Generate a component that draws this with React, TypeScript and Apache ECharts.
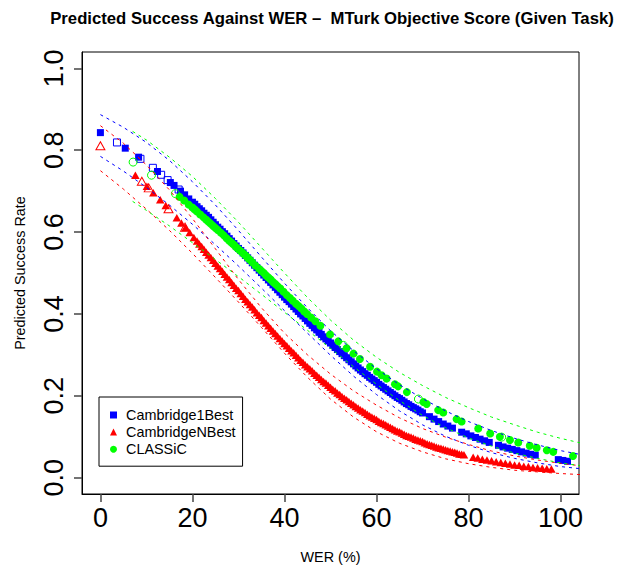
import React, { useEffect, useRef } from "react";
import * as echarts from "echarts";

const FONT = '"Liberation Sans", Arial, Helvetica, sans-serif';

const TITLE = "Predicted Success Against WER \u2013  MTurk Objective Score (Given Task)";
const X_NAME = "WER (%)";
const Y_NAME = "Predicted Success Rate";

const xTicks = [0, 20, 40, 60, 80, 100];
const yTicks = [0, 0.2, 0.4, 0.6, 0.8, 1.0];
const X_MIN = -4;
const X_MAX = 104;
const Y_MIN = -0.04;
const Y_MAX = 1.04;

// Cambridge1Best (filled squares)
const blueFilled: number[][] = [
  [0, 0.843], [5.4, 0.805], [8.3, 0.783], [12.4, 0.748], [15.2, 0.721], [16, 0.714], [17.4, 0.7], [18.3, 0.691], [19.2, 0.681],
  [20, 0.673], [20.5, 0.668], [21, 0.662], [21.5, 0.657], [22, 0.652], [22.5, 0.646], [23, 0.641], [23.5, 0.636], [24, 0.63], [24.5, 0.624],
  [25, 0.618], [25.5, 0.612], [26, 0.607], [26.5, 0.601], [27, 0.596], [27.5, 0.59], [28, 0.584], [28.5, 0.578], [29, 0.572], [29.5, 0.566],
  [30, 0.56], [30.5, 0.555], [31, 0.549], [31.5, 0.543], [32, 0.537], [32.5, 0.531], [33, 0.525], [33.5, 0.519], [34, 0.513], [34.5, 0.507],
  [35, 0.501], [35.5, 0.495], [36, 0.489], [36.5, 0.483], [37, 0.477], [37.5, 0.471], [38, 0.465], [38.5, 0.459], [39, 0.453], [39.5, 0.447],
  [40, 0.441], [40.5, 0.435], [41, 0.43], [41.5, 0.424], [42, 0.418], [42.5, 0.412], [43, 0.406], [43.5, 0.4], [44, 0.395], [44.5, 0.389],
  [45, 0.383], [45.5, 0.377], [46, 0.372], [46.5, 0.366], [47, 0.361], [47.5, 0.355], [48, 0.35], [48.5, 0.344], [49, 0.339], [49.5, 0.334],
  [50, 0.329], [50.5, 0.323], [51, 0.318], [51.5, 0.313], [52, 0.308], [52.5, 0.303], [53, 0.298], [53.5, 0.293], [54, 0.288], [54.5, 0.283],
  [55, 0.278], [55.5, 0.273], [56, 0.268], [56.5, 0.263], [57, 0.259], [57.5, 0.254], [58, 0.25], [58.5, 0.245], [59, 0.241], [59.5, 0.237],
  [60, 0.233], [60.5, 0.228], [61, 0.224], [61.5, 0.22], [62, 0.216], [62.5, 0.212], [63, 0.208], [63.5, 0.204], [64, 0.2], [64.5, 0.196],
  [65, 0.193], [65.5, 0.189], [66, 0.185], [66.5, 0.181], [67, 0.178], [67.5, 0.174], [68, 0.171], [68.5, 0.168], [69, 0.165], [69.5, 0.161],
  [70, 0.158], [71.5, 0.149], [72.5, 0.143], [73.5, 0.137], [74.5, 0.131], [75.5, 0.126], [76.5, 0.121],
  [78.5, 0.111], [79.5, 0.107], [80.5, 0.102], [81.5, 0.098], [82.5, 0.094], [83.5, 0.09], [84.5, 0.086],
  [86.5, 0.079], [87.5, 0.075], [88.5, 0.072], [89.5, 0.069], [90.5, 0.066], [91.5, 0.063], [92.5, 0.06], [93.5, 0.057], [94.5, 0.055],
  [99.5, 0.044], [100.5, 0.042], [101.5, 0.04],
];
// Cambridge1Best (open squares)
const blueOpen: number[][] = [
  [3.6, 0.819], [8.7, 0.779], [11.4, 0.757], [13.2, 0.74], [14.6, 0.727], [17, 0.704],
];

// CambridgeNBest (filled triangles)
const redFilled: number[][] = [
  [7.6, 0.739], [10.1, 0.712], [11.5, 0.696], [13.0, 0.679], [14.2, 0.665], [16.6, 0.635], [17.6, 0.622], [18.5, 0.611], [19.4, 0.599],
  [20.3, 0.587], [21, 0.578], [21.5, 0.571], [22, 0.565], [22.5, 0.558], [23, 0.551], [23.5, 0.544], [24, 0.538], [24.5, 0.531],
  [25, 0.524], [25.5, 0.517], [26, 0.511], [26.5, 0.504], [27, 0.497], [27.5, 0.49], [28, 0.484], [28.5, 0.477], [29, 0.47], [29.5, 0.463],
  [30, 0.457], [30.5, 0.45], [31, 0.443], [31.5, 0.436], [32, 0.43], [32.5, 0.423], [33, 0.417], [33.5, 0.41], [34, 0.403], [34.5, 0.397],
  [35, 0.391], [35.5, 0.384], [36, 0.378], [36.5, 0.371], [37, 0.365], [37.5, 0.358], [38, 0.352], [38.5, 0.346], [39, 0.34], [39.5, 0.334],
  [40, 0.328], [40.5, 0.322], [41, 0.316], [41.5, 0.31], [42, 0.305], [42.5, 0.299], [43, 0.293], [43.5, 0.287], [44, 0.282], [44.5, 0.276],
  [45, 0.271], [45.5, 0.266], [46, 0.261], [46.5, 0.255], [47, 0.25], [47.5, 0.245], [48, 0.24], [48.5, 0.235], [49, 0.231], [49.5, 0.226],
  [50, 0.221], [50.5, 0.216], [51, 0.212], [51.5, 0.207], [52, 0.203], [52.5, 0.198], [53, 0.194], [53.5, 0.19], [54, 0.186], [54.5, 0.182],
  [55, 0.178], [55.5, 0.174], [56, 0.17], [56.5, 0.166], [57, 0.163], [57.5, 0.159], [58, 0.155], [58.5, 0.151], [59, 0.148], [59.5, 0.145],
  [60, 0.142], [60.5, 0.138], [61, 0.135], [61.5, 0.132], [62, 0.129], [62.5, 0.126], [63, 0.123], [63.5, 0.12], [64, 0.117], [64.5, 0.114],
  [65, 0.112], [65.5, 0.109], [66, 0.106], [66.5, 0.103], [67, 0.101], [67.5, 0.099], [68, 0.097], [68.5, 0.094], [69, 0.092], [69.5, 0.09],
  [70, 0.088], [70.5, 0.085], [71, 0.083], [71.5, 0.081], [72, 0.079], [72.5, 0.077], [73, 0.075], [73.5, 0.073], [74, 0.072], [74.5, 0.07],
  [75, 0.068], [75.5, 0.066], [76, 0.065], [76.5, 0.063], [77, 0.062], [77.5, 0.06], [78, 0.058], [78.5, 0.057], [79, 0.056],
  [81, 0.05], [82, 0.048], [83, 0.045], [84, 0.043], [85, 0.041], [86, 0.039], [87, 0.037], [88, 0.035], [89, 0.033],
  [90, 0.031], [91, 0.03], [92, 0.028], [93, 0.027], [94, 0.025], [95, 0.024], [96, 0.023], [97, 0.022], [98, 0.021],
];
// CambridgeNBest (open triangles)
const redOpen: number[][] = [
  [0, 0.811], [9.0, 0.724], [10.5, 0.708], [14.8, 0.657], [18.4, 0.612],
];

// CLASSiC (filled circles)
const greenFilled: number[][] = [
  [17.2, 0.686], [18.2, 0.677], [19.2, 0.667], [20, 0.66], [20.5, 0.655], [21, 0.65], [21.7, 0.643], [22.4, 0.636], [23, 0.63],
  [23.5, 0.625], [24, 0.62], [24.5, 0.615], [25, 0.61], [25.5, 0.605], [26.2, 0.598], [26.8, 0.592], [27.4, 0.585], [28, 0.579],
  [28.5, 0.574], [29, 0.569], [29.5, 0.563], [30, 0.558], [30.5, 0.553], [31.1, 0.547], [31.6, 0.542], [32, 0.537], [32.5, 0.532],
  [33, 0.526], [33.7, 0.518], [34.5, 0.51], [35, 0.505], [35.5, 0.5], [36, 0.494], [36.5, 0.489], [37, 0.484], [37.5, 0.478],
  [38, 0.473], [38.5, 0.468], [39.1, 0.462], [39.8, 0.454], [40.5, 0.446], [41.2, 0.439], [41.8, 0.432], [42.5, 0.425], [43.1, 0.419],
  [43.7, 0.413], [44.3, 0.406], [44.9, 0.4], [45.8, 0.391], [46.7, 0.382], [47.8, 0.371],
  [49.9, 0.35], [51.7, 0.333], [53.5, 0.316], [55.0, 0.303], [56.4, 0.29], [58.6, 0.271], [60.1, 0.259], [61.1, 0.25], [62.2, 0.242],
  [64.0, 0.228], [64.7, 0.223], [66.6, 0.209], [70.2, 0.185], [70.9, 0.18], [73.4, 0.165], [74.5, 0.159], [77.4, 0.143], [78.5, 0.137],
  [82.1, 0.12], [84.7, 0.108], [86.8, 0.1], [89.0, 0.092], [90.8, 0.086], [93.3, 0.078], [94.8, 0.073], [97.0, 0.067], [98.4, 0.063],
  [102.7, 0.053],
];
// CLASSiC (open circles)
const greenOpen: number[][] = [
  [7.1, 0.771], [11.1, 0.739], [16.3, 0.694], [52.8, 0.323], [69.1, 0.192], [87.2, 0.099],
];

// Confidence bands (dashed)
const bandX = [0, 5, 10, 15, 20, 25, 30, 35, 40, 45, 50, 55, 60, 65, 70, 75, 80, 85, 90, 95, 100, 105];
const blueUpper = [0.887, 0.856, 0.819, 0.775, 0.723, 0.666, 0.604, 0.539, 0.475, 0.415, 0.359, 0.31, 0.266, 0.227, 0.193, 0.163, 0.137, 0.115, 0.096, 0.08, 0.066, 0.055];
const blueLower = [0.785, 0.749, 0.709, 0.666, 0.619, 0.569, 0.517, 0.463, 0.408, 0.353, 0.299, 0.248, 0.203, 0.163, 0.129, 0.101, 0.079, 0.061, 0.047, 0.036, 0.027, 0.021];
const redUpper = [0.86, 0.817, 0.764, 0.703, 0.633, 0.559, 0.484, 0.415, 0.353, 0.3, 0.253, 0.212, 0.177, 0.146, 0.12, 0.099, 0.081, 0.065, 0.053, 0.043, 0.035, 0.028];
const redLower = [0.75, 0.705, 0.656, 0.604, 0.548, 0.489, 0.429, 0.367, 0.304, 0.245, 0.192, 0.148, 0.112, 0.084, 0.063, 0.046, 0.034, 0.025, 0.018, 0.014, 0.01, 0.007];
const greenBandX = [7, 10, 15, 20, 25, 30, 35, 40, 45, 50, 55, 60, 65, 70, 75, 80, 85, 90, 95, 100, 105];
const greenUpper = [0.846, 0.825, 0.783, 0.736, 0.682, 0.624, 0.562, 0.5, 0.44, 0.385, 0.336, 0.294, 0.257, 0.225, 0.196, 0.171, 0.148, 0.129, 0.111, 0.096, 0.083];
const greenLower = [0.675, 0.653, 0.615, 0.574, 0.533, 0.491, 0.448, 0.404, 0.36, 0.316, 0.271, 0.228, 0.188, 0.152, 0.122, 0.097, 0.077, 0.06, 0.047, 0.036, 0.028];

const BLUE = "#0000ff";
const RED = "#ff0000";
const GREEN = "#00ff00";

function zip(xs: number[], ys: number[]) {
  return xs.map((x, i) => [x, ys[i]]);
}

function band(name: string, color: string, xs: number[], ys: number[]) {
  return {
    name,
    type: "line",
    data: zip(xs, ys),
    showSymbol: false,
    symbol: "none",
    silent: true,
    z: 4,
    lineStyle: { color, width: 1, type: [3, 4] },
  };
}

export default function App() {
  const ref = useRef<HTMLDivElement>(null);
  useEffect(() => {
    if (!ref.current) return;
    const chart = echarts.init(ref.current, undefined, { renderer: "svg" });
    const option: any = {
      animation: false,
      backgroundColor: "#ffffff",
      title: {
        text: TITLE,
        left: 332,
        top: 10,
        textAlign: "center",
        padding: 0,
        textStyle: { fontFamily: FONT, fontWeight: "bold", fontSize: 16.7, color: "#000" },
      },
      grid: {
        left: 82,
        right: 43,
        top: 52,
        bottom: 72,
        show: true,
        borderColor: "#000",
        borderWidth: 1,
        backgroundColor: "transparent",
      },
      legend: {
        orient: "vertical",
        left: 99,
        top: 397,
        padding: [11, 7, 10, 11],
        itemGap: 3.1,
        itemWidth: 7,
        itemHeight: 7,
        borderColor: "#000",
        borderWidth: 1,
        backgroundColor: "#fff",
        selectedMode: false,
        textStyle: { fontFamily: FONT, fontSize: 14.4, color: "#000", padding: [0, 0, 0, 4] },
        data: [
          { name: "Cambridge1Best", icon: "rect" },
          { name: "CambridgeNBest", icon: "triangle" },
          { name: "CLASSiC", icon: "circle" },
        ],
      },
      xAxis: {
        type: "value",
        min: X_MIN,
        max: X_MAX,
        name: X_NAME,
        nameLocation: "middle",
        nameGap: 56,
        nameTextStyle: { fontFamily: FONT, fontSize: 14.4, color: "#000" },
        axisLine: { show: true, onZero: false, lineStyle: { color: "#000", width: 1 } },
        splitLine: { show: false },
        axisTick: { show: true, inside: false, length: 8, customValues: xTicks, lineStyle: { color: "#444", width: 1.5 } },
        axisLabel: { customValues: xTicks, fontFamily: FONT, fontSize: 27, color: "#000", margin: 10 },
      },
      yAxis: {
        type: "value",
        min: Y_MIN,
        max: Y_MAX,
        name: Y_NAME,
        nameLocation: "middle",
        nameGap: 55,
        nameRotate: 90,
        nameTextStyle: { fontFamily: FONT, fontSize: 14.4, color: "#000" },
        axisLine: { show: true, onZero: false, lineStyle: { color: "#000", width: 1 } },
        splitLine: { show: false },
        axisTick: { show: true, inside: false, length: 8, customValues: yTicks, lineStyle: { color: "#444", width: 1.5 } },
        axisLabel: {
          customValues: yTicks,
          rotate: 90,
          fontFamily: FONT,
          fontSize: 27,
          color: "#000",
          margin: 15,
          formatter: (v: number) => v.toFixed(1),
        },
      },
      series: [
        {
          name: "Cambridge1Best",
          type: "scatter",
          symbol: "rect",
          symbolSize: 7,
          z: 2,
          itemStyle: { color: BLUE, opacity: 1 },
          data: blueFilled,
        },
        {
          name: "Cambridge1Best (failed)",
          type: "scatter",
          symbol: "rect",
          symbolSize: 7,
          z: 2,
          itemStyle: { color: "rgba(0,0,0,0)", borderColor: BLUE, borderWidth: 1, opacity: 1 },
          data: blueOpen,
        },
        {
          name: "CambridgeNBest",
          type: "scatter",
          symbol: "triangle",
          symbolSize: [8.5, 7.5],
          z: 2,
          itemStyle: { color: RED, opacity: 1 },
          data: redFilled,
        },
        {
          name: "CambridgeNBest (failed)",
          type: "scatter",
          symbol: "triangle",
          symbolSize: [9, 8],
          z: 2,
          itemStyle: { color: "rgba(0,0,0,0)", borderColor: RED, borderWidth: 1, opacity: 1 },
          data: redOpen,
        },
        {
          name: "CLASSiC",
          type: "scatter",
          symbol: "circle",
          symbolSize: 8,
          z: 3,
          itemStyle: { color: GREEN, opacity: 1 },
          data: greenFilled,
        },
        {
          name: "CLASSiC (failed)",
          type: "scatter",
          symbol: "circle",
          symbolSize: 8,
          z: 3,
          itemStyle: { color: "rgba(0,0,0,0)", borderColor: GREEN, borderWidth: 1, opacity: 1 },
          data: greenOpen,
        },
        band("Cambridge1Best upper", BLUE, bandX, blueUpper),
        band("Cambridge1Best lower", BLUE, bandX, blueLower),
        band("CambridgeNBest upper", RED, bandX, redUpper),
        band("CambridgeNBest lower", RED, bandX, redLower),
        band("CLASSiC upper", GREEN, greenBandX, greenUpper),
        band("CLASSiC lower", GREEN, greenBandX, greenLower),
      ],
    };
    chart.setOption(option);
    return () => chart.dispose();
  }, []);
  return (
    <div
      ref={ref}
      style={{ position: "absolute", left: 0, top: 0, width: 622, height: 569, background: "#fff" }}
    />
  );
}
